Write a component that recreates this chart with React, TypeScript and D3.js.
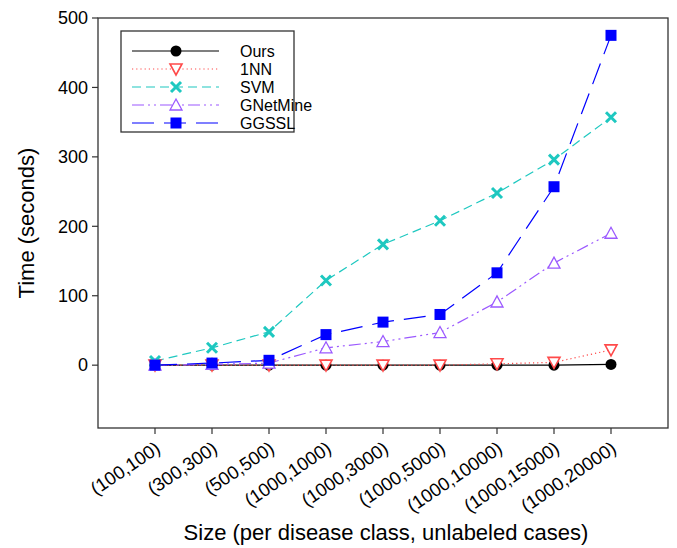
import React from "react";
import * as d3 from "d3";

const categories = ["(100,100)", "(300,300)", "(500,500)", "(1000,1000)", "(1000,3000)", "(1000,5000)", "(1000,10000)", "(1000,15000)", "(1000,20000)"];
const oursValues = [0, 0, 0, 0, 0, 0, 0, 0, 1];
const nnValues = [0, 0, 0, 0, 0, 0, 2, 4, 22];
const svmValues = [6, 25, 48, 122, 174, 208, 248, 296, 357];
const gnetValues = [0, 1, 3, 25, 34, 47, 91, 147, 190];
const ggsslValues = [0, 3, 7, 44, 62, 73, 133, 257, 475];
const yTicks = [0, 100, 200, 300, 400, 500];
const seriesNames = ["Ours", "1NN", "SVM", "GNetMine", "GGSSL"];

const FONT = "'Liberation Sans', Arial, sans-serif";

type S = { name: string; values: number[]; color: string; dash: string; width: number; marker: string };

const series: S[] = [
  { name: seriesNames[0], values: oursValues, color: "#000000", dash: "none", width: 1.2, marker: "circle" },
  { name: seriesNames[1], values: nnValues, color: "#ff4a4a", dash: "1.2 3", width: 1.2, marker: "tridown" },
  { name: seriesNames[2], values: svmValues, color: "#1ec8c0", dash: "9 5", width: 1.2, marker: "x" },
  { name: seriesNames[3], values: gnetValues, color: "#9b59ff", dash: "12 4 2 4 2 4", width: 1.2, marker: "triup" },
  { name: seriesNames[4], values: ggsslValues, color: "#0000ff", dash: "22 10", width: 1.2, marker: "square" },
];

function Marker({ type, x, y, color }: { type: string; x: number; y: number; color: string }) {
  if (type === "circle") return <circle cx={x} cy={y} r={5.5} fill={color} />;
  if (type === "square") return <rect x={x - 5.5} y={y - 5.5} width={11} height={11} fill={color} />;
  if (type === "x") {
    const s = 5;
    return (
      <g stroke={color} strokeWidth={3}>
        <line x1={x - s} y1={y - s} x2={x + s} y2={y + s} />
        <line x1={x - s} y1={y + s} x2={x + s} y2={y - s} />
      </g>
    );
  }
  if (type === "tridown") {
    const p = `${x - 6},${y - 5} ${x + 6},${y - 5} ${x},${y + 6}`;
    return <polygon points={p} fill="white" stroke={color} strokeWidth={1.6} />;
  }
  const p = `${x - 6},${y + 5} ${x + 6},${y + 5} ${x},${y - 6}`;
  return <polygon points={p} fill="white" stroke={color} strokeWidth={1.3} />;
}

export default function App() {
  const W = 677, H = 548;
  const left = 98, right = 668, top = 18, bottom = 428;
  const x = d3.scaleLinear().domain([-1, categories.length]).range([left, right]);
  const y = d3.scaleLinear().domain([-90.5, 500]).range([bottom, top]);
  const line = d3.line<number>().x((_, i) => x(i)).y((v) => y(v));

  const lgX = 121, lgY = 31, lgW = 173, lgH = 101;
  return (
    <svg width={W} height={H} style={{ position: "absolute", left: 0, top: 0 }} fontFamily={FONT}>
      <rect x={0} y={0} width={W} height={H} fill="white" />
      {series.map((s) => (
        <path key={s.name + "l"} d={line(s.values) || ""} fill="none" stroke={s.color} strokeWidth={s.width} strokeDasharray={s.dash} />
      ))}
      {series.map((s) => (
        <g key={s.name + "m"}>
          {s.values.map((v, i) => (
            <Marker key={i} type={s.marker} x={x(i)} y={y(v)} color={s.color} />
          ))}
        </g>
      ))}
      <rect x={left} y={top} width={right - left} height={bottom - top} fill="none" stroke="#333" strokeWidth={1.3} />
      {yTicks.map((t) => (
        <g key={t}>
          <line x1={left - 6} x2={left} y1={y(t)} y2={y(t)} stroke="#333" strokeWidth={1.2} />
          <text x={left - 10} y={y(t)} dy="0.35em" textAnchor="end" fontSize={18}>{t}</text>
        </g>
      ))}
      {categories.map((c, i) => (
        <g key={c}>
          <line x1={x(i)} x2={x(i)} y1={bottom} y2={bottom + 6} stroke="#333" strokeWidth={1.2} />
          <text transform={`translate(${x(i) + 3},${bottom + 18}) rotate(-34)`} textAnchor="end" dy="0.35em" fontSize={18.5}>{c}</text>
        </g>
      ))}
      <text x={386} y={540} textAnchor="middle" fontSize={22}>Size (per disease class, unlabeled cases)</text>
      <text transform={`translate(34,${(top + bottom) / 2}) rotate(-90)`} textAnchor="middle" fontSize={22}>Time (seconds)</text>
      <rect x={lgX} y={lgY} width={lgW} height={lgH} fill="white" stroke="#333" strokeWidth={1.3} />
      {series.map((s, i) => {
        const ly = 51 + i * 18;
        return (
          <g key={s.name + "lg"}>
            <line x1={132} x2={219} y1={ly} y2={ly} stroke={s.color} strokeWidth={s.width} strokeDasharray={s.dash} />
            <Marker type={s.marker} x={176} y={ly} color={s.color} />
            <text x={240} y={ly} dy="0.35em" fontSize={16}>{s.name}</text>
          </g>
        );
      })}
    </svg>
  );
}
